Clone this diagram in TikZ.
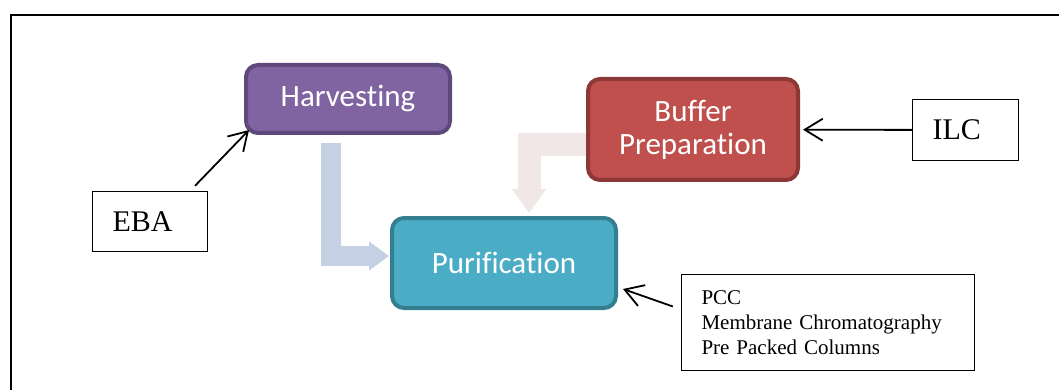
\documentclass[tikz,border=0pt]{standalone}
\usepackage{fontspec}
\setmainfont{Liberation Serif}
\setsansfont{Carlito}[Ligatures={NoCommon}]
\usepackage{tikz}
\usetikzlibrary{arrows.meta,calc,backgrounds}
\definecolor{harvestpurple}{RGB}{128,100,162}
\definecolor{harvestedge}{RGB}{94,72,124}
\definecolor{bufferred}{RGB}{192,80,77}
\definecolor{bufferedge}{RGB}{140,56,54}
\definecolor{purifyblue}{RGB}{75,172,198}
\definecolor{purifyedge}{RGB}{52,126,146}
\definecolor{flowblue}{RGB}{197,208,228}
\definecolor{flowpink}{RGB}{242,231,231}

\begin{document}
\begin{tikzpicture}[x=1pt, y=-1pt,
    stage/.style={rectangle, rounded corners=12pt, line width=4pt, text=white, align=center, inner sep=0pt, font=\sffamily\fontsize{31}{33}\selectfont},
    sidebox/.style={rectangle, draw, line width=1.3pt, align=left, inner xsep=20pt, inner ysep=0pt, font=\fontsize{30}{32}\selectfont},
    pointer/.style={-{Straight Barb[length=18pt, width=22pt]}, line width=1.8pt},
    flow/.style={line width=#1}]
    \useasboundingbox (0,0) rectangle (1059,390);
    \draw[line width=2pt] (11,390) -- (11,15) -- (1059,15);

    % process stages
    \node[stage, draw=harvestedge, fill=harvestpurple, minimum width=204pt, minimum height=68pt] (harv) at (348,99) {Harvesting};
    \node[stage, draw=bufferedge, fill=bufferred, minimum width=210pt, minimum height=101pt] (buf) at (693,129.5) {Buffer\\Preparation};
    \node[stage, draw=purifyedge, fill=purifyblue, minimum width=224pt, minimum height=90pt] (puri) at (504,263) {Purification};

    % side notes
    \node[sidebox, text width=75pt, minimum height=60pt] (eba) at (150,221.5) {EBA};
    \node[sidebox, text width=66pt, minimum height=61pt] (ilc) at (965.5,130) {ILC};
    \node[sidebox, text width=253pt, minimum height=96pt, font=\fontsize{21}{25}\selectfont] (pcc) at (828,322.5) {PCC\\Membrane Chromatography\\Pre Packed Columns};

    % broad flow arrows behind the stages
    \begin{scope}[on background layer]
        \draw[flow=20pt, flowblue, -{Triangle[length=20pt, width=28pt]}] ($(harv.south west)+(87,8)$) |- ($(puri.west)+(-1,-7)$);
        \draw[flow=23pt, flowpink, -{Triangle[length=24pt, width=33pt]}] ($(buf.west)+(20,15)$) -| ($(puri.north)+(25,-3)$);
    \end{scope}

    \draw[pointer] ([shift={(45pt,5pt)}]eba.north) -- ([shift={(5pt,5pt)}]harv.south west);
    \draw[pointer, shorten >=3pt] (ilc) -- (buf);
    \draw[pointer] ([shift={(-8pt,16pt)}]pcc.west) -- ([shift={(5pt,-26pt)}]puri.east);
\end{tikzpicture}
\end{document}
